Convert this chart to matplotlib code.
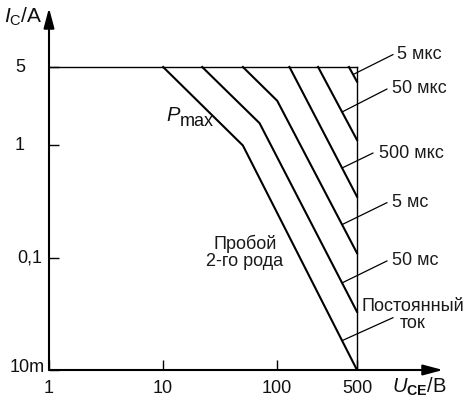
import numpy as np
import matplotlib
matplotlib.use("Agg")
import matplotlib.pyplot as plt

plt.rcParams['font.family'] = ['Liberation Sans', 'DejaVu Sans']
plt.rcParams['mathtext.fontset'] = 'custom'
plt.rcParams['mathtext.rm'] = 'Liberation Sans'
plt.rcParams['mathtext.it'] = 'Liberation Sans:italic'
plt.rcParams['mathtext.bf'] = 'Liberation Sans:bold'

# ---- data (U_CE in V, I_C in A) ----
v_max = 500
i_max = 5
v_min = 1
i_min = 0.01

dc_v = [10, 50, 500]
dc_i = [5, 1, 0.01]
ms50_v = [22, 70, 500]
ms50_i = [5, 1.58, 0.033]
ms5_v = [50, 100, 500]
ms5_i = [5, 2.5, 0.11]
us500_v = [128, 500]
us500_i = [5, 0.35]
us50_v = [228, 500]
us50_i = [5, 1.12]
us5_v = [425, 500]
us5_i = [5, 3.7]

curve_labels = ["5 мкс", "50 мкс", "500 мкс", "5 мс", "50 мс", "Постоянный\nток"]
x_ticks = [1, 10, 100, 500]
x_ticklabels = ["1", "10", "100", "500"]
y_ticks = [0.01, 0.1, 1, 5]
y_ticklabels = ["10m", "0,1", "1", "5"]

# ---- figure ----
W, H = 465, 399
fig = plt.figure(figsize=(W / 100, H / 100), dpi=100)
x0, y0 = 49, 370      # origin in pixels
x_500, y_5 = 357, 67  # pixel positions of 500 V and 5 A
x_end, y_end = 443, 8
ax = fig.add_axes([x0 / W, (H - y0) / H, (x_end - x0) / W, (y0 - y_end) / H])
ax.set_xscale('log')
ax.set_yscale('log')
dec_x = (x_500 - x0) / np.log10(v_max / v_min)
dec_y = (y0 - y_5) / np.log10(i_max / i_min)
ax.set_xlim(v_min, v_min * 10 ** ((x_end - x0) / dec_x))
ax.set_ylim(i_min, i_min * 10 ** ((y0 - y_end) / dec_y))
for s in ax.spines.values():
    s.set_visible(False)

# axes with arrows
arrow_style = '-|>,head_length=1.2,head_width=0.32'
ax.annotate('', xy=(0, 1), xytext=(0, 0), xycoords='axes fraction',
            arrowprops=dict(arrowstyle=arrow_style, lw=1.5, color='k',
                            shrinkA=0, shrinkB=0), annotation_clip=False)
ax.annotate('', xy=(1, 0), xytext=(0, 0), xycoords='axes fraction',
            arrowprops=dict(arrowstyle=arrow_style, lw=1.5, color='k',
                            shrinkA=0, shrinkB=0), annotation_clip=False)

# ticks
ax.set_xticks(x_ticks)
ax.set_xticklabels(x_ticklabels)
ax.xaxis.set_minor_locator(matplotlib.ticker.NullLocator())
ax.yaxis.set_minor_locator(matplotlib.ticker.NullLocator())
ax.set_yticks(y_ticks)
ax.set_yticklabels([''] * len(y_ticks))
ax.tick_params(axis='both', direction='in', length=7.5, width=1.0, color='k')
ax.tick_params(axis='x', pad=7, labelsize=13, labelcolor='#111')

ytick_dx = [-22, -19, -29, -29]
ytick_dy = [3, 0, 0, 0]
for val, lab, dx, dy in zip(y_ticks, y_ticklabels, ytick_dx, ytick_dy):
    ax.annotate(lab, xy=(0, val), xycoords=('axes fraction', 'data'),
                xytext=(dx, dy), textcoords='offset pixels', ha='center', va='center',
                fontsize=13, color='#111', annotation_clip=False)

# SOA boundary
ax.plot([v_min, v_max], [i_max, i_max], color='k', lw=1.0)
ax.plot([v_max, v_max], [i_min, i_max], color='k', lw=1.0)

curves = [(us5_v, us5_i), (us50_v, us50_i), (us500_v, us500_i),
          (ms5_v, ms5_i), (ms50_v, ms50_i), (dc_v, dc_i)]
for cv, ci in curves:
    ax.plot(cv, ci, color='k', lw=1.5, solid_joinstyle='miter')

# leaders and labels
anchor_v = [462, 370, 370, 370, 370, 370]
lead = [(40, 20), (45, 23), (31, 15), (45, 22), (45, 22), (51, 23)]
txt = [(44, 20), (50, 23), (37, 15), (50, 22), (50, 22), (71, 26)]
for (cv, ci), av, (lx, ly), (tx, ty), lab in zip(curves, anchor_v, lead, txt, curve_labels):
    ai = 10 ** np.interp(np.log10(av), np.log10(cv), np.log10(ci))
    ax.annotate('', xy=(av, ai), xytext=(lx, ly), textcoords='offset pixels',
                arrowprops=dict(arrowstyle='-', lw=0.9, color='k', shrinkA=0, shrinkB=0),
                annotation_clip=False)
    ha = 'center' if '\n' in lab else 'left'
    ax.annotate(lab, xy=(av, ai), xytext=(tx, ty), textcoords='offset pixels',
                ha=ha, va='center', fontsize=13, color='#1a1a1a', linespacing=1.0,
                annotation_clip=False)

# P_max and second breakdown labels
ax.text(10.7, 1.86, 'P', fontsize=14.5, style='italic', ha='left', va='center', color='#111')
ax.text(14.0, 1.64, 'max', fontsize=13, ha='left', va='center', color='#111')
ax.text(52, 0.111, 'Пробой\n2-го рода', fontsize=13, ha='center', va='center',
        color='#1a1a1a', linespacing=1.0)

# axis titles
fig.text(4 / W, 1 - 17 / H, r'$I_{\mathrm{C}}$/A', fontsize=15, ha='left', va='center', color='#111')
fig.text(392 / W, 1 - 387 / H, r'$U_{\mathbf{CE}}$/B', fontsize=14.5, ha='left', va='center', color='#111')

fig.savefig('out.png', dpi=100)
